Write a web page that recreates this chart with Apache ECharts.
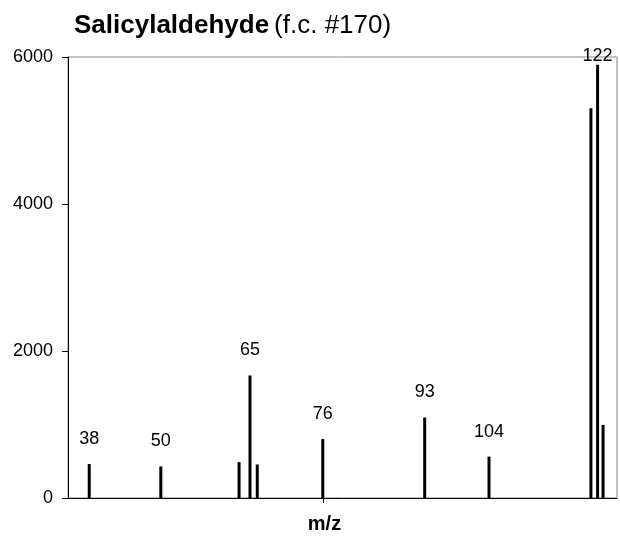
<!DOCTYPE html>
<html>
<head>
<meta charset="utf-8">
<script src="https://cdn.jsdelivr.net/npm/echarts@6/dist/echarts.min.js"></script>
<style>html,body{margin:0;padding:0;background:#fff}#c{width:620px;height:539px}</style>
</head>
<body>
<div id="c"></div>
<script>
// m/z positions and intensities
const mz = [38, 49.8, 62.7, 64.5, 65.7, 76.5, 93.3, 103.9, 120.7, 121.8, 122.7];
const intensity = [462, 430, 488, 1667, 456, 802, 1095, 563, 5304, 5893, 994];
const peakLabels = ['38', '50', '', '65', '', '76', '93', '104', '', '122', ''];
const yTicks = [0, 2000, 4000, 6000];

const FONT = '"Liberation Sans", Arial, sans-serif';
const chart = echarts.init(document.getElementById('c'), null, {renderer: 'canvas'});

const data = mz.map((x, i) => {
  const item = {value: [x, intensity[i]]};
  if (peakLabels[i]) {
    item.label = {
      show: true, position: 'top', formatter: peakLabels[i],
      distance: peakLabels[i] === '122' ? 0 : 16,
      fontSize: 18, fontFamily: FONT, color: '#000'
    };
  }
  return item;
});

chart.setOption({
  animation: false,
  title: {
    left: 69, top: 8,
    text: '{b|Salicylaldehyde} {n|(f.c. #170)}',
    textStyle: {
      rich: {
        b: {fontSize: 26, fontWeight: 'bold', fontFamily: FONT, color: '#000', lineHeight: 26},
        n: {fontSize: 26, fontWeight: 'normal', fontFamily: FONT, color: '#000', lineHeight: 26}
      }
    }
  },
  grid: {left: 68, right: 3, top: 57, bottom: 31, show: true, borderColor: '#888', borderWidth: 1},
  xAxis: {
    type: 'value', min: 34.5, max: 125,
    name: 'm/z', nameLocation: 'middle', nameGap: 16,
    nameTextStyle: {fontSize: 20, fontWeight: 'bold', fontFamily: FONT, color: '#000', padding: [0, 36, 0, 0]},
    axisLine: {show: true, lineStyle: {color: '#000', width: 1}},
    axisTick: {show: true, customValues: [76.5], length: 5, lineStyle: {color: '#000'}},
    axisLabel: {show: false},
    splitLine: {show: false}
  },
  yAxis: {
    type: 'value', min: yTicks[0], max: yTicks[yTicks.length - 1], interval: 2000,
    axisLine: {show: true, lineStyle: {color: '#000', width: 1}},
    axisTick: {show: true, length: 6, lineStyle: {color: '#000'}},
    axisLabel: {fontSize: 18, fontFamily: FONT, color: '#000', margin: 15, formatter: v => String(v)},
    splitLine: {show: false}
  },
  series: [{
    type: 'bar',
    barWidth: 3,
    itemStyle: {color: '#000'},
    data: data
  }]
});
</script>
</body>
</html>
